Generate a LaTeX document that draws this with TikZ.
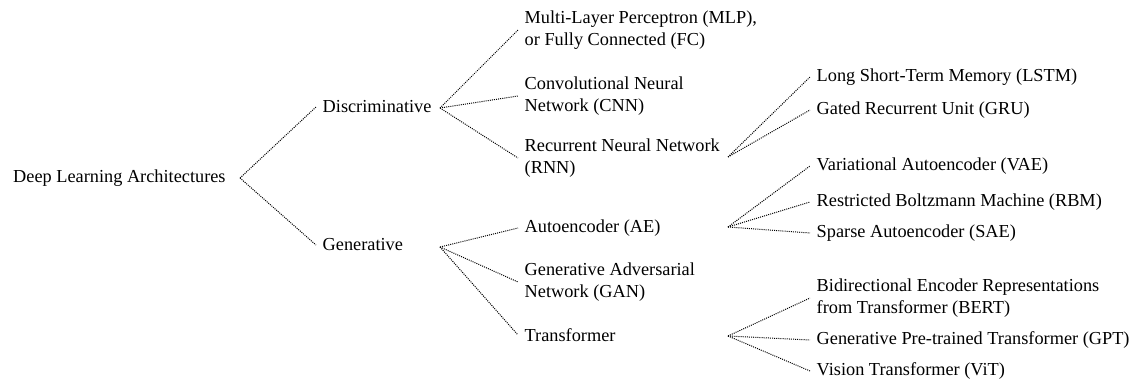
\documentclass[tikz,border=0pt]{standalone}
\usepackage{fontspec}
\setmainfont{Liberation Serif}
\begin{document}
\begin{tikzpicture}[x=1pt,y=-1pt,
  lbl/.style={anchor=west,align=left,inner xsep=6.5pt,inner ysep=0pt,
    font=\fontsize{18.3}{22.5}\selectfont},
  link/.style={line width=1pt,dash pattern=on 1pt off 1.1pt,black}]
\useasboundingbox (0,0) rectangle (1133,383);

% root
\node[lbl] (root) at (6.5,178) {Deep Learning Architectures};
\coordinate (root-fork) at (240,178);

% first level
\node[lbl] (disc) at (316,107) {Discriminative};
\node[lbl] (gen)  at (316,245) {Generative};
\coordinate (disc-fork) at (440,108);
\coordinate (gen-fork)  at (440,247);

% discriminative models
\node[lbl] (mlp) at (518,30)  {Multi-Layer Perceptron (MLP),\\or Fully Connected (FC)};
\node[lbl] (cnn) at (518,96)  {Convolutional Neural\\Network (CNN)};
\node[lbl] (rnn) at (518,158) {Recurrent Neural Network\\(RNN)};
\coordinate (rnn-fork) at (728,157);

% generative models
\node[lbl] (ae)  at (518,228) {Autoencoder (AE)};
\node[lbl] (gan) at (518,282) {Generative Adversarial\\Network (GAN)};
\node[lbl] (tf)  at (518,335) {Transformer};
\coordinate (ae-fork) at (728,227);
\coordinate (tf-fork) at (728,336);

% recurrent variants
\node[lbl] (lstm) at (810,77)  {Long Short-Term Memory (LSTM)};
\node[lbl] (gru)  at (810,110) {Gated Recurrent Unit (GRU)};

% autoencoder variants
\node[lbl] (vae) at (810,166) {Variational Autoencoder (VAE)};
\node[lbl] (rbm) at (810,202) {Restricted Boltzmann Machine (RBM)};
\node[lbl] (sae) at (810,233) {Sparse Autoencoder (SAE)};

% transformer variants
\node[lbl] (bert) at (810,298) {Bidirectional Encoder Representations\\from Transformer (BERT)};
\node[lbl] (gpt)  at (810,340) {Generative Pre-trained Transformer (GPT)};
\node[lbl] (vit)  at (810,371) {Vision Transformer (ViT)};

% connectors
\foreach \a/\b in {root-fork/disc, root-fork/gen,
  disc-fork/mlp, disc-fork/cnn, disc-fork/rnn,
  gen-fork/ae, gen-fork/gan, gen-fork/tf,
  rnn-fork/lstm, rnn-fork/gru,
  ae-fork/vae, ae-fork/rbm, ae-fork/sae,
  tf-fork/bert, tf-fork/gpt, tf-fork/vit}
  \draw[link] (\a) -- (\b.west);
\end{tikzpicture}
\end{document}
